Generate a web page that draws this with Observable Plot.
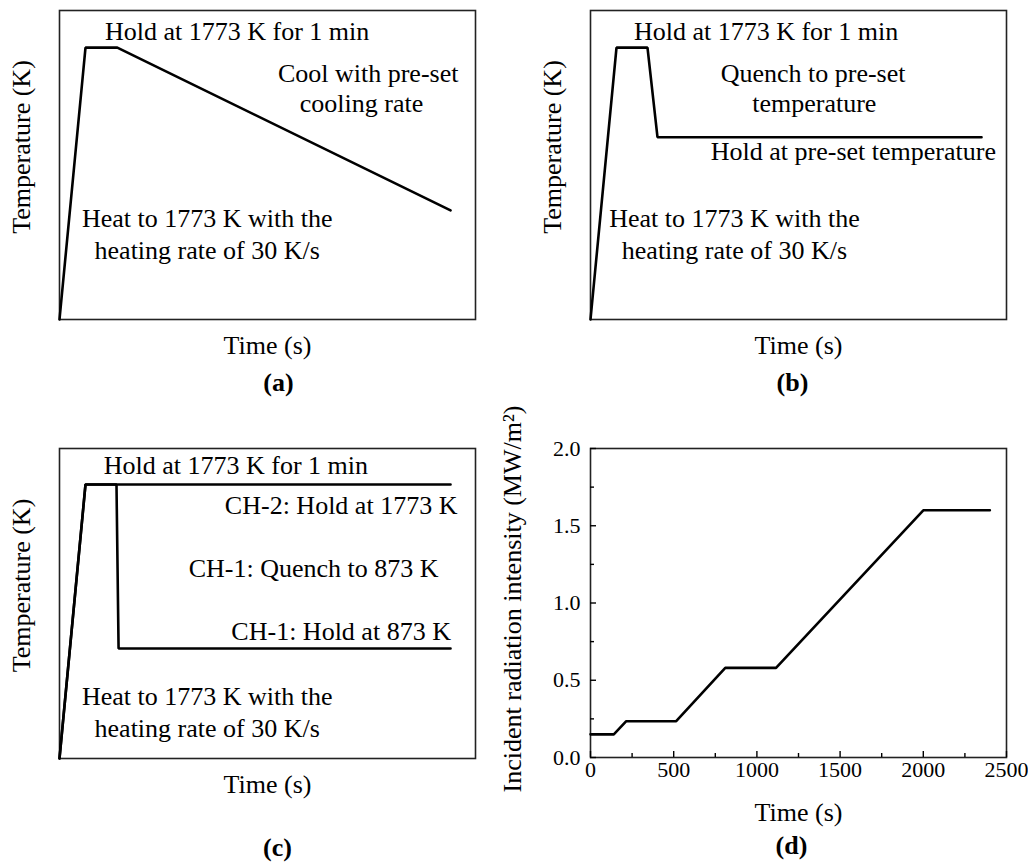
<!DOCTYPE html>
<html>
<head>
<meta charset="utf-8">
<script src="https://cdn.jsdelivr.net/npm/d3@7"></script>
<script src="https://cdn.jsdelivr.net/npm/@observablehq/plot@0.6"></script>
<style>
  html, body { margin: 0; padding: 0; background: #fff; }
  #fig { position: relative; width: 1028px; height: 862px; background: #fff; }
  .panel { position: absolute; }
</style>
</head>
<body>
<div id="fig">
  <div class="panel" id="pa" style="left:0;top:0"></div>
  <div class="panel" id="pb" style="left:514px;top:0"></div>
  <div class="panel" id="pc" style="left:0;top:400px"></div>
  <div class="panel" id="pd" style="left:514px;top:400px"></div>
</div>
<script>
// ---------- Data (schematic panels use relative time / relative temperature units 0–100) ----------
// (a) heat, hold, cool with pre-set cooling rate
const timeA = [0, 6.25, 13.9, 94];
const tempA = [0, 88, 88, 35.3];
const notesA = ["Hold at 1773 K for 1 min", "Cool with pre-set", "cooling rate", "Heat to 1773 K with the", "heating rate of 30 K/s"];
const notesAX = [42.7, 74.2, 72.6, 35.5, 35.5];
const notesAY = [90.3, 76.7, 67.0, 29.8, 19.7];

// (b) heat, hold, quench, hold at pre-set temperature
const timeB = [0, 6.25, 13.7, 16.1, 94];
const tempB = [0, 88, 88, 59, 59];
const notesB = ["Hold at 1773 K for 1 min", "Quench to pre-set", "temperature", "Hold at pre-set temperature", "Heat to 1773 K with the", "heating rate of 30 K/s"];
const notesBX = [42.2, 53.5, 53.8, 63.2, 34.6, 34.6];
const notesBY = [90.3, 76.7, 67.0, 51.5, 29.8, 19.7];

// (c) CH-2 holds at 1773 K, CH-1 quenches to 873 K
const timeCH2 = [0, 6.25, 94];
const tempCH2 = [0, 88.4, 88.4];
const timeCH1 = [0, 6.25, 13.7, 14.2, 94];
const tempCH1 = [0, 88.4, 88.4, 35.5, 35.5];
const notesC = ["Hold at 1773 K for 1 min", "CH-2: Hold at 1773 K", "CH-1: Quench to 873 K", "CH-1: Hold at 873 K", "Heat to 1773 K with the", "heating rate of 30 K/s"];
const notesCX = [42.4, 67.7, 61.1, 67.7, 35.5, 35.5];
const notesCY = [91.9, 79.0, 58.4, 38.1, 17.1, 6.8];

// (d) incident radiation intensity vs time
const radTime = [0, 140, 215, 515, 810, 1115, 2000, 2400];
const radIntensity = [0.15, 0.15, 0.235, 0.235, 0.58, 0.58, 1.6, 1.6];
const xMajorD = [0, 500, 1000, 1500, 2000, 2500];
const xMinorD = [250, 750, 1250, 1750, 2250];
const yMajorD = [0, 0.5, 1.0, 1.5, 2.0];
const yMinorD = [0.25, 0.75, 1.25, 1.75];

// ---------- Styling ----------
const FONT = "'Liberation Serif', 'Times New Roman', Times, serif";
const LINE_W = 2.6;
const FRAME = {stroke: "#222", strokeWidth: 1.6};
const baseStyle = {fontFamily: FONT, fontSize: "26px", background: "white", color: "black", overflow: "visible"};

const rows = (xs, ys) => xs.map((x, i) => ({x, y: ys[i]}));
const noteRows = (t, xs, ys) => t.map((text, i) => ({text, x: xs[i], y: ys[i]}));

function schematic({curves, notes, tag, tagDx, tagDy, width, height, margins}) {
  return Plot.plot({
    width, height,
    ...margins,
    style: baseStyle,
    x: {domain: [0, 100], axis: null},
    y: {domain: [0, 100], axis: null},
    marks: [
      Plot.frame(FRAME),
      ...curves.map(c => Plot.line(c, {x: "x", y: "y", stroke: "black", strokeWidth: LINE_W, strokeLinejoin: "miter"})),
      Plot.text(notes, {x: "x", y: "y", text: "text", lineAnchor: "bottom", textAnchor: "middle", fontSize: 26, fill: "black"}),
      Plot.text(["Time (s)"], {frameAnchor: "bottom", dy: 34, lineAnchor: "bottom", textAnchor: "middle", fontSize: 26, fill: "black"}),
      Plot.text(["Temperature (K)"], {frameAnchor: "left", rotate: -90, dx: -30, dy: -18, lineAnchor: "bottom", textAnchor: "middle", fontSize: 26, fill: "black"}),
      Plot.text([tag], {frameAnchor: "bottom", dy: tagDy, dx: tagDx, lineAnchor: "bottom", textAnchor: "middle", fontSize: 26, fontWeight: "bold", fill: "black"})
    ]
  });
}

document.getElementById("pa").append(schematic({
  curves: [rows(timeA, tempA)],
  notes: noteRows(notesA, notesAX, notesAY),
  tag: "(a)", tagDx: 11, tagDy: 71,
  width: 514, height: 400,
  margins: {marginLeft: 59, marginRight: 39, marginTop: 10, marginBottom: 81}
}));

document.getElementById("pb").append(schematic({
  curves: [rows(timeB, tempB)],
  notes: noteRows(notesB, notesBX, notesBY),
  tag: "(b)", tagDx: -6, tagDy: 71,
  width: 514, height: 400,
  margins: {marginLeft: 76, marginRight: 22, marginTop: 10, marginBottom: 81}
}));

document.getElementById("pc").append(schematic({
  curves: [rows(timeCH2, tempCH2), rows(timeCH1, tempCH1)],
  notes: noteRows(notesC, notesCX, notesCY),
  tag: "(c)", tagDx: 10, tagDy: 97,
  width: 514, height: 462,
  margins: {marginLeft: 59, marginRight: 39, marginTop: 48, marginBottom: 104}
}));

document.getElementById("pd").append(Plot.plot({
  width: 514, height: 462,
  marginLeft: 76, marginRight: 22, marginTop: 48, marginBottom: 105,
  style: baseStyle,
  x: {domain: [0, 2500]},
  y: {domain: [0, 2]},
  marks: [
    Plot.frame(FRAME),
    Plot.axisX({ticks: xMajorD, tickSize: -6, tickPadding: 10, tickFormat: "d", fontSize: 22, label: null, strokeWidth: 1.4}),
    Plot.axisX({ticks: xMinorD, tickSize: -4, tickFormat: () => "", label: null, strokeWidth: 1.4}),
    Plot.axisY({ticks: yMajorD, tickSize: -6, tickPadding: 16, tickFormat: ".1f", fontSize: 22, label: null, strokeWidth: 1.4}),
    Plot.axisY({ticks: yMinorD, tickSize: -4, tickFormat: () => "", label: null, strokeWidth: 1.4}),
    Plot.line(rows(radTime, radIntensity), {x: "x", y: "y", stroke: "black", strokeWidth: LINE_W}),
    Plot.text(["Time (s)"], {frameAnchor: "bottom", dy: 63, lineAnchor: "bottom", textAnchor: "middle", fontSize: 26, fill: "black"}),
    Plot.text(["Incident radiation intensity (MW/m²)"], {frameAnchor: "left", rotate: -90, dx: -70, dy: -4, lineAnchor: "bottom", textAnchor: "middle", fontSize: 26, fill: "black"}),
    Plot.text(["(d)"], {frameAnchor: "bottom", dy: 96, dx: -7, lineAnchor: "bottom", textAnchor: "middle", fontSize: 26, fontWeight: "bold", fill: "black"})
  ]
}));
</script>
</body>
</html>
